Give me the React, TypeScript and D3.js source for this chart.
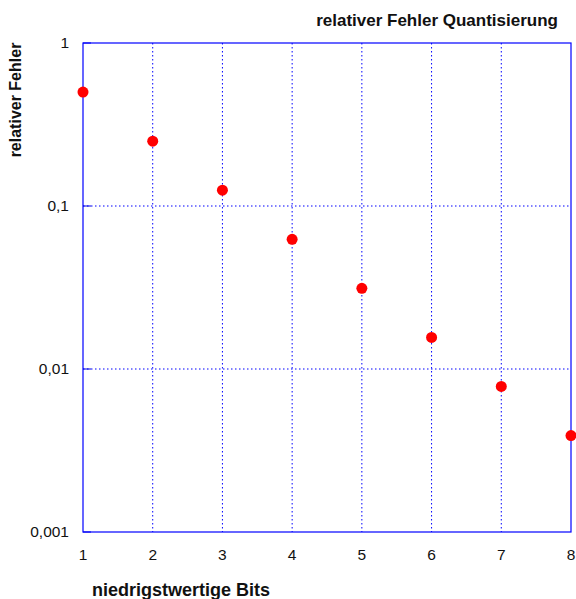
import * as d3 from 'd3';

const BITS = [1, 2, 3, 4, 5, 6, 7, 8];
const REL_ERROR = [0.5, 0.25, 0.125, 0.0625, 0.03125, 0.015625, 0.0078125, 0.00390625];
const Y_TICKS = [0.001, 0.01, 0.1, 1];
const Y_TICK_LABELS = ['0,001', '0,01', '0,1', '1'];

const W = 576;
const H = 599;
const M = { top: 43, right: 5, bottom: 67, left: 83 };

export default function App() {
  const x = d3.scaleLinear().domain([1, 8]).range([M.left, W - M.right]);
  const y = d3.scaleLog().domain([0.001, 1]).range([H - M.bottom, M.top]);
  const font = 'Arial, "Liberation Sans", sans-serif';

  return (
    <svg
      width={W}
      height={H}
      style={{ position: 'absolute', left: 0, top: 0, fontFamily: font, background: 'white' }}
    >
      {/* grid */}
      {BITS.slice(1, -1).map(b => (
        <line key={'gx' + b} x1={x(b)} x2={x(b)} y1={y(1)} y2={y(0.001)}
          stroke="#0000ff" strokeWidth={1} strokeDasharray="1.5,2.5" />
      ))}
      {Y_TICKS.slice(1, -1).map(t => (
        <line key={'gy' + t} x1={x(1)} x2={x(8)} y1={y(t)} y2={y(t)}
          stroke="#0000ff" strokeWidth={1} strokeDasharray="1.5,2.5" />
      ))}
      {/* inner ticks */}
      {Y_TICKS.map(t => (
        <line key={'ty' + t} x1={x(1)} x2={x(1) + 8} y1={y(t)} y2={y(t)} stroke="#0000dd" strokeWidth={1} />
      ))}
      {/* frame */}
      <rect x={x(1)} y={y(1)} width={x(8) - x(1)} height={y(0.001) - y(1)}
        fill="none" stroke="#0000ff" strokeWidth={1.2} />

      {/* y tick labels */}
      {Y_TICKS.map((t, i) => (
        <text key={'yl' + t} x={69} y={y(t)} dy="0.35em" textAnchor="end" fontSize={15.5} fill="#111">
          {Y_TICK_LABELS[i]}
        </text>
      ))}
      {/* x tick labels */}
      {BITS.map(b => (
        <text key={'xl' + b} x={x(b)} y={555} dy="0.35em" textAnchor="middle" fontSize={15.5} fill="#111">
          {b}
        </text>
      ))}

      {/* points */}
      {BITS.map((b, i) => (
        <circle key={'p' + b} cx={x(b)} cy={y(REL_ERROR[i])} r={5.5} fill="#ff0000" />
      ))}

      {/* titles */}
      <text x={558} y={20} dy="0.35em" textAnchor="end" fontSize={17} fontWeight={700} fill="#111">
        relativer Fehler Quantisierung
      </text>
      <text transform="translate(15,100) rotate(-90)" dy="0.35em" textAnchor="middle"
        fontSize={16} fontWeight={700} fill="#111">
        relativer Fehler
      </text>
      <text x={92} y={590} dy="0.35em" textAnchor="start" fontSize={18} fontWeight={700} fill="#111">
        niedrigstwertige Bits
      </text>
    </svg>
  );
}
